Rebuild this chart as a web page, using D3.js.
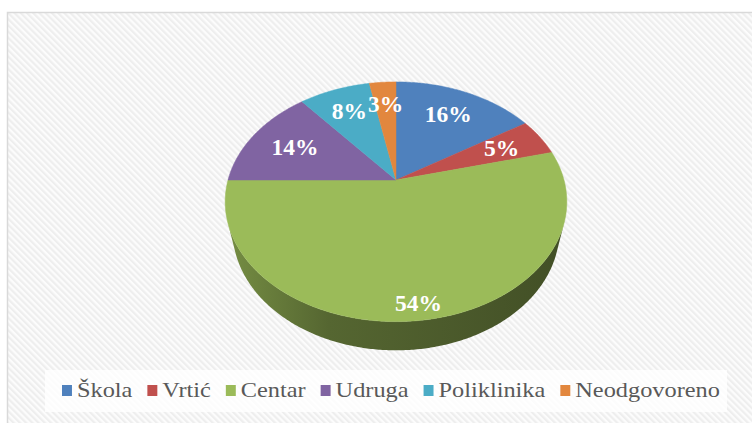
<!DOCTYPE html>
<html>
<head>
<meta charset="utf-8">
<script src="https://cdn.jsdelivr.net/npm/d3@7"></script>
<style>
body { margin: 0; background: #fff; }
</style>
</head>
<body>
<div id="container"></div>
<script>
// Data
var categories = ["Škola", "Vrtić", "Centar", "Udruga", "Poliklinika", "Neodgovoreno"];
var values = [16, 5, 54, 14, 8, 3];
var colors = ["#4f81bd", "#c0504d", "#9bbb59", "#8064a2", "#4bacc6", "#e2873e"];
// how far out each percentage label sits (fraction of radius)
var labelRadius = [0.72, 0.72, 0.9, 0.7, 0.73, 0.75];

var svg_width = 752
var svg_height = 423

var svg = d3.select("#container")
    .append("svg")
    .attr("width", svg_width)
    .attr("height", svg_height)

var defs = svg.append("defs");

// diagonal stripe background
var pat = defs.append("pattern")
    .attr("id", "stripes")
    .attr("patternUnits", "userSpaceOnUse")
    .attr("width", 4.4)
    .attr("height", 4.4)
    .attr("patternTransform", "rotate(-45)");
pat.append("rect").attr("width", 4.4).attr("height", 4.4).attr("fill", "#fcfcfc");
pat.append("rect").attr("width", 2.2).attr("height", 4.4).attr("fill", "#eeeeee");

svg.append("rect")
    .attr("x", 7.5)
    .attr("y", 12.5)
    .attr("width", 780)
    .attr("height", 440)
    .attr("fill", "url(#stripes)")
    .attr("stroke", "#d9d9d9")
    .attr("stroke-width", 1.5);

// --- 3D pie projection ---
var cx = 396, cy = 180;      // screen position of pie centre
var A = 168;                  // horizontal radius on screen
var k = 0.2506;               // radius / camera distance
var alpha = Math.asin(0.69);  // camera elevation
var thick = 0.255;            // pie thickness relative to radius

function project(r, theta, y) {
    var X = r * Math.sin(theta), Z = r * Math.cos(theta);
    var dn = 1 + k * (Z * Math.cos(alpha) - y * Math.sin(alpha));
    return [cx + A * X / dn, cy - A * (Z * Math.sin(alpha) + y * Math.cos(alpha)) / dn];
}

var arcs = d3.pie().sort(null).value(d => d)(values);

// range of angles where the outer wall faces the camera
var visA = Math.acos(-k / Math.cos(alpha));
var visB = 2 * Math.PI - visA;

function angleSteps(a0, a1) {
    var n = Math.max(2, Math.ceil((a1 - a0) / 0.01));
    return d3.range(n + 1).map(i => a0 + (a1 - a0) * i / n);
}

var line = d3.line();

// side walls
var sides = svg.append("g").attr("id", "sides");
arcs.forEach(function(d, i) {
    var a0 = Math.max(d.startAngle, visA), a1 = Math.min(d.endAngle, visB);
    if (a1 <= a0) return;
    var base = d3.color(colors[i]);
    var g = defs.append("linearGradient")
        .attr("id", "side" + i)
        .attr("gradientUnits", "userSpaceOnUse")
        .attr("x1", cx - A).attr("x2", cx + A)
        .attr("y1", 0).attr("y2", 0);
    g.append("stop").attr("offset", 0).attr("stop-color", base.darker(0.8));
    g.append("stop").attr("offset", 0.3).attr("stop-color", base.darker(1.7));
    g.append("stop").attr("offset", 1).attr("stop-color", base.darker(2.4));

    var steps = angleSteps(a0, a1);
    var top = steps.map(t => project(1, t, 0));
    var bottom = steps.slice().reverse().map(t => project(1, t, -thick));
    sides.append("path")
        .attr("d", line(top.concat(bottom)) + "Z")
        .attr("fill", "url(#side" + i + ")");
});

// top faces
var tops = svg.append("g").attr("id", "tops");
arcs.forEach(function(d, i) {
    var pts = [project(0, 0, 0)].concat(angleSteps(d.startAngle, d.endAngle).map(t => project(1, t, 0)));
    tops.append("path")
        .attr("d", line(pts) + "Z")
        .attr("fill", colors[i])
        .attr("stroke", colors[i])
        .attr("stroke-width", 0.5);
});

// percentage labels
var total = d3.sum(values);
svg.append("g")
    .selectAll("text")
    .data(arcs)
    .enter()
    .append("text")
    .attr("transform", function(d, i) {
        var p = project(labelRadius[i], (d.startAngle + d.endAngle) / 2, 0);
        return "translate(" + p[0] + "," + p[1] + ")";
    })
    .attr("text-anchor", "middle")
    .attr("dy", "0.33em")
    .attr("font-family", "'Liberation Serif', 'Times New Roman', serif")
    .attr("font-weight", "bold")
    .attr("font-size", "23.5px")
    .attr("fill", "#fff")
    .text(d => Math.round(d.value / total * 100) + "%");

// --- legend ---
svg.append("rect")
    .attr("x", 45)
    .attr("y", 370)
    .attr("width", 682)
    .attr("height", 42)
    .attr("fill", "#ffffff")
    .attr("fill-opacity", 0.8);

var legend = svg.append("g");
var xpos = 0;
categories.forEach(function(c, i) {
    legend.append("rect")
        .attr("x", xpos)
        .attr("y", -12)
        .attr("width", 9)
        .attr("height", 11)
        .attr("fill", colors[i]);
    var t = legend.append("text")
        .attr("x", xpos + 13.5)
        .attr("y", 0)
        .attr("font-family", "'Liberation Serif', 'Times New Roman', serif")
        .attr("font-size", "22px")
        .attr("fill", "#595959")
        .text(c);
    xpos += 13.5 + t.node().getComputedTextLength() + 13.5;
});
xpos -= 13.5;
var sx = (720 - 62) / xpos;
legend.attr("transform", "translate(62,397) scale(" + sx + ",1)");
</script>
</body>
</html>
